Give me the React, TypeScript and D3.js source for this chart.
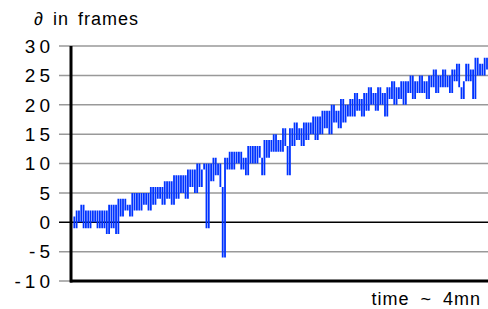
import React from "react";
import * as d3 from "d3";

// frame offset samples over ~4 minutes
const frames = [
  1, -1, 2, 0, 3, -1, 2, -1, 2, 0,
  2, -1, 2, -1, 2, -2, 3, -1, 3, -2,
  4, 1, 4, 2, 3, 1, 5, 2, 5, 2,
  5, 3, 5, 2, 6, 3, 6, 4, 6, 3,
  7, 4, 7, 3, 8, 4, 8, 5, 8, 4,
  9, 6, 9, 5, 10, 6, 9, 10, -1, 10,
  7, 11, 8, 10, 6, -6, 11, 9, 12, 9,
  12, 10, 12, 9, 11, 8, 13, 10, 13, 10,
  13, 11, 8, 14, 11, 14, 12, 15, 12, 14,
  12, 16, 13, 8, 16, 13, 17, 14, 16, 13,
  17, 14, 17, 15, 18, 14, 18, 15, 19, 16,
  19, 15, 20, 17, 19, 16, 21, 17, 20, 18,
  21, 18, 22, 19, 21, 18, 22, 19, 23, 20,
  22, 19, 23, 20, 22, 18, 23, 21, 24, 20,
  23, 21, 24, 20, 24, 22, 25, 21, 24, 22,
  25, 22, 24, 21, 25, 23, 26, 22, 25, 23,
  26, 23, 25, 22, 26, 24, 27, 23, 21, 24,
  27, 24, 26, 21, 28, 25, 27, 25, 28, 26,
];

const yTicks = [-10, -5, 0, 5, 10, 15, 20, 25, 30];
const yLabel = "∂ in frames";
const xLabel = "time ~ 4mn";

const W = 488;
const H = 309;

export default function App() {
  const x = d3.scaleLinear().domain([0, frames.length - 1]).range([72, 487]);
  const y = d3.scaleLinear().domain([-10, 30]).range([281, 46]);

  // each step between consecutive samples drawn as a vertical stroke
  const jumps = d3.pairs(frames);
  const path = jumps
    .map(([a, b], i) => `M${x(i + 1)},${y(a)}V${y(b)}`)
    .join("");

  const font = "'Liberation Sans', Arial, sans-serif";

  return (
    <svg
      width={W}
      height={H}
      style={{ position: "absolute", left: 0, top: 0, background: "#fff" }}
    >
      {/* gridlines + ticks */}
      {yTicks.map((t) => (
        <g key={t}>
          <line
            x1={59}
            x2={W}
            y1={y(t)}
            y2={y(t)}
            stroke={t === 0 ? "#000" : "#999"}
            strokeWidth={1.5}
          />
          <text
            x={54}
            y={y(t)}
            dy="0.36em"
            textAnchor="end"
            fontFamily={font}
            fontSize={19}
            letterSpacing={4}
            fill="#000"
          >
            {t}
          </text>
        </g>
      ))}

      <path d={path} fill="none" stroke="#0033ff" strokeWidth={1.8} />

      {/* axes */}
      <line x1={71} x2={71} y1={y(30)} y2={y(-10) + 1.5} stroke="#000" strokeWidth={3} />
      <line x1={70} x2={W} y1={y(-10)} y2={y(-10)} stroke="#000" strokeWidth={3} />

      <text x={34} y={25} fontFamily={font} fontSize={18} letterSpacing={1} fill="#000" wordSpacing={3}>
        {yLabel}
      </text>
      <text x={481} y={305} textAnchor="end" fontFamily={font} fontSize={18} letterSpacing={1} fill="#000" wordSpacing={5}>
        {xLabel}
      </text>
    </svg>
  );
}
